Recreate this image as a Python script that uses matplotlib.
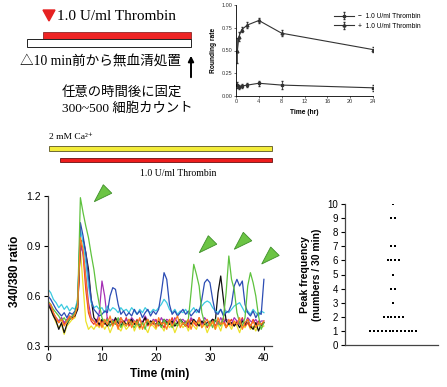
import numpy as np
import matplotlib.pyplot as plt
from matplotlib.patches import Rectangle, Polygon

plt.rcParams['font.family'] = ['Liberation Sans', 'Noto Sans CJK JP']
SERIF_JP = ['Liberation Serif', 'Noto Sans CJK JP']
SERIF = ['Liberation Serif', 'DejaVu Serif']

# rounding assay (top right)
round_time = [0.25, 0.5, 1, 2, 4, 8, 24]
round_plus = [0.50, 0.65, 0.73, 0.78, 0.83, 0.69, 0.51]
round_plus_err = [0.14, 0.05, 0.03, 0.03, 0.03, 0.03, 0.03]
round_minus = [0.12, 0.10, 0.11, 0.12, 0.14, 0.12, 0.09]
round_minus_err = [0.03, 0.02, 0.02, 0.02, 0.03, 0.04, 0.03]

# Ca imaging traces, sampled every 0.5 min from 0 to 40 min
time_min = np.arange(0, 40.25, 0.5)
tr_yellow = [0.55, 0.52, 0.48, 0.44, 0.41, 0.43, 0.37, 0.42, 0.44, 0.46,
             0.47, 0.60, 0.88, 0.66, 0.45, 0.40, 0.42, 0.40, 0.43, 0.41,
             0.44, 0.40, 0.43, 0.38, 0.42, 0.45, 0.41, 0.39, 0.43, 0.40,
             0.42, 0.45, 0.39, 0.43, 0.40, 0.44, 0.41, 0.38, 0.43, 0.42,
             0.40, 0.44, 0.42, 0.39, 0.45, 0.41, 0.43, 0.38, 0.42, 0.44,
             0.41, 0.43, 0.39, 0.44, 0.42, 0.40, 0.45, 0.41, 0.43, 0.38,
             0.42, 0.44, 0.40, 0.43, 0.39, 0.45, 0.41, 0.43, 0.40, 0.44,
             0.42, 0.38, 0.43, 0.41, 0.44, 0.40, 0.42, 0.39, 0.43, 0.41,
             0.42]
tr_red = [0.56, 0.54, 0.50, 0.46, 0.44, 0.47, 0.43, 0.45, 0.47, 0.48,
          0.49, 0.55, 0.93, 0.85, 0.64, 0.50, 0.45, 0.43, 0.46, 0.42,
          0.45, 0.43, 0.47, 0.42, 0.44, 0.46, 0.41, 0.45, 0.43, 0.47,
          0.42, 0.45, 0.43, 0.46, 0.41, 0.44, 0.47, 0.42, 0.45, 0.43,
          0.46, 0.42, 0.44, 0.41, 0.45, 0.43, 0.47, 0.42, 0.44, 0.46,
          0.43, 0.45, 0.41, 0.46, 0.44, 0.42, 0.47, 0.43, 0.45, 0.41,
          0.44, 0.46, 0.42, 0.45, 0.43, 0.47, 0.41, 0.44, 0.46, 0.42,
          0.45, 0.43, 0.47, 0.42, 0.44, 0.41, 0.46, 0.43, 0.45, 0.42,
          0.44]
tr_black = [0.55, 0.52, 0.48, 0.45, 0.40, 0.44, 0.38, 0.43, 0.46, 0.47,
            0.48, 0.52, 0.92, 0.94, 0.86, 0.76, 0.58, 0.47, 0.45, 0.43,
            0.46, 0.44, 0.42, 0.45, 0.43, 0.47, 0.44, 0.42, 0.45, 0.43,
            0.44, 0.46, 0.43, 0.45, 0.42, 0.44, 0.47, 0.43, 0.45, 0.44,
            0.43, 0.45, 0.42, 0.46, 0.44, 0.43, 0.45, 0.42, 0.44, 0.46,
            0.44, 0.42, 0.45, 0.43, 0.46, 0.44, 0.42, 0.45, 0.43, 0.44,
            0.44, 0.46, 0.45, 0.62, 0.72, 0.58, 0.45, 0.43, 0.44, 0.42,
            0.44, 0.41, 0.45, 0.43, 0.46, 0.42, 0.40, 0.44, 0.39, 0.43,
            0.44]
tr_magenta = [0.56, 0.53, 0.49, 0.47, 0.45, 0.47, 0.44, 0.46, 0.48, 0.47,
              0.49, 0.53, 0.90, 0.86, 0.72, 0.56, 0.47, 0.45, 0.44, 0.50,
              0.69, 0.60, 0.46, 0.44, 0.46, 0.43, 0.45, 0.47, 0.44, 0.46,
              0.44, 0.47, 0.45, 0.43, 0.46, 0.44, 0.48, 0.45, 0.43, 0.46,
              0.45, 0.43, 0.47, 0.44, 0.46, 0.45, 0.43, 0.47, 0.44, 0.45,
              0.46, 0.44, 0.43, 0.47, 0.45, 0.44, 0.46, 0.43, 0.47, 0.45,
              0.44, 0.46, 0.45, 0.43, 0.47, 0.44, 0.46, 0.45, 0.43, 0.47,
              0.45, 0.44, 0.46, 0.43, 0.47, 0.45, 0.44, 0.46, 0.43, 0.45,
              0.45]
tr_cyan = [0.64, 0.62, 0.58, 0.56, 0.53, 0.55, 0.52, 0.54, 0.51, 0.53,
           0.52, 0.58, 1.00, 0.92, 0.80, 0.66, 0.56, 0.53, 0.54, 0.52,
           0.53, 0.50, 0.54, 0.51, 0.53, 0.52, 0.50, 0.53, 0.51, 0.52,
           0.50, 0.53, 0.51, 0.49, 0.52, 0.50, 0.53, 0.51, 0.50, 0.52,
           0.51, 0.53, 0.55, 0.58, 0.56, 0.52, 0.50, 0.52, 0.49, 0.51,
           0.50, 0.52, 0.49, 0.51, 0.53, 0.50, 0.52, 0.54, 0.56, 0.57,
           0.56, 0.53, 0.51, 0.50, 0.52, 0.49, 0.51, 0.50, 0.52, 0.54,
           0.55, 0.56, 0.53, 0.50, 0.51, 0.49, 0.52, 0.50, 0.48, 0.51,
           0.50]
tr_blue = [0.60, 0.58, 0.55, 0.52, 0.50, 0.48, 0.50, 0.47, 0.50, 0.49,
           0.51, 0.56, 1.04, 0.96, 0.86, 0.72, 0.58, 0.52, 0.50, 0.48,
           0.49, 0.51, 0.50, 0.60, 0.65, 0.64, 0.55, 0.49, 0.51, 0.48,
           0.50, 0.48, 0.52, 0.49, 0.51, 0.47, 0.50, 0.52, 0.48, 0.51,
           0.49, 0.52, 0.62, 0.74, 0.70, 0.55, 0.49, 0.51, 0.48, 0.50,
           0.52, 0.49, 0.51, 0.48, 0.50, 0.52, 0.50, 0.58, 0.68, 0.70,
           0.68, 0.58, 0.50, 0.49, 0.52, 0.48, 0.50, 0.51, 0.55, 0.66,
           0.70, 0.66, 0.69, 0.55, 0.50, 0.48, 0.51, 0.47, 0.50, 0.49,
           0.70]
tr_green = [0.57, 0.55, 0.52, 0.50, 0.48, 0.45, 0.47, 0.44, 0.46, 0.48,
            0.50, 0.56, 1.19, 1.10, 1.02, 0.95, 0.85, 0.76, 0.64, 0.55,
            0.47, 0.44, 0.46, 0.42, 0.45, 0.43, 0.47, 0.41, 0.44, 0.42,
            0.46, 0.43, 0.41, 0.45, 0.42, 0.44, 0.40, 0.46, 0.43, 0.45,
            0.42, 0.44, 0.41, 0.46, 0.43, 0.45, 0.41, 0.44, 0.42, 0.46,
            0.43, 0.44, 0.46, 0.62, 0.79, 0.73, 0.66, 0.50, 0.44, 0.42,
            0.45, 0.41, 0.46, 0.44, 0.42, 0.47, 0.62, 0.84, 0.70, 0.64,
            0.50, 0.44, 0.42, 0.47, 0.66, 0.74, 0.68, 0.60, 0.48, 0.40,
            0.44]
tr_orange = [0.56, 0.55, 0.50, 0.47, 0.44, 0.46, 0.42, 0.45, 0.48, 0.46,
             0.49, 0.54, 0.95, 0.88, 0.70, 0.52, 0.46, 0.45, 0.42, 0.47,
             0.41, 0.46, 0.43, 0.48, 0.42, 0.45, 0.40, 0.47, 0.44, 0.42,
             0.46, 0.41, 0.45, 0.43, 0.47, 0.40, 0.44, 0.46, 0.42, 0.45,
             0.41, 0.47, 0.43, 0.44, 0.40, 0.46, 0.42, 0.45, 0.48, 0.41,
             0.44, 0.42, 0.46, 0.40, 0.45, 0.43, 0.47, 0.41, 0.44, 0.46,
             0.42, 0.45, 0.40, 0.47, 0.43, 0.44, 0.41, 0.46, 0.42, 0.45,
             0.43, 0.47, 0.40, 0.44, 0.46, 0.42, 0.45, 0.41, 0.44, 0.43,
             0.45]

# peak frequency per cell (numbers / 30 min)
peak_freq = [1, 1, 1, 1, 1, 1, 1, 1, 1, 1, 1, 1, 1,
             2, 2, 2, 2, 2, 2, 3, 4, 4, 5, 6, 6, 6, 6,
             7, 7, 9, 9, 10]

fig = plt.figure(figsize=(4.47, 3.87), dpi=100)

# overlay in pixel coordinates for the schematic parts (drawn on top of the panels)
ov = fig.add_axes([0, 0, 1, 1])
ov.set_xlim(0, 447)
ov.set_ylim(387, 0)
ov.axis('off')
ov.set_zorder(10)

ov.add_patch(Polygon([(43, 10), (55, 10), (49, 21)], closed=True, color='#e62222'))
ov.text(57, 16, '1.0 U/ml Thrombin', family=SERIF, fontsize=11, va='center', ha='left')
ov.add_patch(Rectangle((43, 32), 148, 6.5, facecolor='#ee2424', edgecolor='#7a1010', lw=0.5))
ov.add_patch(Rectangle((27, 39), 164, 7.5, facecolor='white', edgecolor='#222222', lw=0.7))
ov.text(20, 62, '△10 min前から無血清処置', family=SERIF_JP, fontsize=9.8, va='center', ha='left')
ov.annotate('', xy=(191, 53), xytext=(191, 80),
            arrowprops=dict(arrowstyle='-|>', color='black', lw=1.4, mutation_scale=8))
ov.text(62, 92, '任意の時間後に固定', family=SERIF_JP, fontsize=9.6, va='center', ha='left')
ov.text(62, 109, '300~500 細胞カウント', family=SERIF_JP, fontsize=9.6, va='center', ha='left')

ov.text(49, 137, '2 mM Ca²⁺', family=SERIF, fontsize=6.8, va='center', ha='left')
ov.add_patch(Rectangle((48.5, 146), 223, 4.5, facecolor='#f3ec3a', edgecolor='#5a5420', lw=0.6))
ov.add_patch(Rectangle((60, 158), 211.5, 4.2, facecolor='#ee1c1c', edgecolor='#6a1010', lw=0.6))
ov.text(178, 173, '1.0 U/ml Thrombin', family=SERIF, fontsize=7, va='center', ha='center')

# green arrowheads
for tip in [(94.3, 201.7), (199.3, 252.7), (234.3, 249.3), (261.7, 264.0)]:
    tx, ty = tip
    ov.add_patch(Polygon([(tx, ty), (tx + 9, ty - 17), (tx + 17.5, ty - 8.5)], closed=True,
                         facecolor='#6cc444', edgecolor='#3f8f2a', lw=0.6))

# rounding rate panel
ax1 = fig.add_axes([236 / 447, 1 - 96 / 387, 137 / 447, 91 / 387])
ax1.errorbar(round_time, round_minus, yerr=round_minus_err, color='#333333', lw=0.8,
             marker='s', ms=2, capsize=1, elinewidth=0.6, label='−  1.0 U/ml Thrombin')
ax1.errorbar(round_time, round_plus, yerr=round_plus_err, color='#333333', lw=0.8,
             marker='^', ms=2, capsize=1, elinewidth=0.6, label='+  1.0 U/ml Thrombin')
ax1.set_xlim(0, 24)
ax1.set_ylim(0, 1.0)
ax1.set_xticks([0, 4, 8, 12, 16, 20, 24])
ax1.set_yticks([0, 0.25, 0.5, 0.75, 1.0])
ax1.set_yticklabels(['0.00', '0.25', '0.50', '0.75', '1.00'])
ax1.tick_params(labelsize=4, length=1.5, width=0.5, pad=1, colors='#333333')
for s in ['top', 'right']:
    ax1.spines[s].set_visible(False)
for s in ['left', 'bottom']:
    ax1.spines[s].set_linewidth(0.6)
ax1.set_xlabel('Time (hr)', fontsize=4.8, fontweight='bold', labelpad=3)
ax1.set_ylabel('Rounding rate', fontsize=4.8, fontweight='bold', labelpad=3)
ax1.legend(loc='upper left', bbox_to_anchor=(328 / 447, 1 - 7 / 387), bbox_transform=fig.transFigure,
           fontsize=4.8, frameon=False, handlelength=3, handletextpad=0.6, labelspacing=0.4)

# Ca imaging panel
ax2 = fig.add_axes([48 / 447, 1 - 346 / 387, 224 / 447, 150 / 387])
traces = [(tr_yellow, '#ece22a'), (tr_red, '#e8322a'), (tr_magenta, '#a52fb5'),
          (tr_black, '#111111'), (tr_cyan, '#3ccbe0'), (tr_blue, '#2c4cb4'),
          (tr_green, '#5ec23e'), (tr_orange, '#ff7f1e')]
for vals, col in traces:
    ax2.plot(time_min, vals, color=col, lw=0.9)
ax2.set_xlim(0, 41.5)
ax2.set_ylim(0.3, 1.2)
ax2.set_xticks([0, 10, 20, 30, 40])
ax2.set_yticks([0.3, 0.6, 0.9, 1.2])
ax2.tick_params(labelsize=7.5, length=3, width=0.8, pad=2)
for s in ['top', 'right']:
    ax2.spines[s].set_visible(False)
for s in ['left', 'bottom']:
    ax2.spines[s].set_linewidth(0.9)
    ax2.spines[s].set_color('#444444')
ax2.set_xlabel('Time (min)', fontsize=8.5, fontweight='bold', labelpad=4)
ax2.set_ylabel('340/380 ratio', fontsize=8.5, fontweight='bold', labelpad=4)

# peak frequency dot plot
ax3 = fig.add_axes([345 / 447, 1 - 345 / 387, 93 / 447, 141 / 387])
vals = np.array(peak_freq)
for v in np.unique(vals):
    n = np.sum(vals == v)
    xs = 0.52 + (np.arange(n) - (n - 1) / 2) * 0.041
    ax3.plot(xs, [v] * n, 's', color='black', ms=1.6, mew=0)
ax3.set_xlim(0, 1)
ax3.set_ylim(0, 10)
ax3.set_yticks(range(0, 11))
ax3.set_xticks([])
ax3.tick_params(labelsize=7, length=3, width=0.8, pad=2)
for s in ['top', 'right']:
    ax3.spines[s].set_visible(False)
for s in ['left', 'bottom']:
    ax3.spines[s].set_linewidth(0.9)
    ax3.spines[s].set_color('#444444')
ax3.set_ylabel('Peak frequency\n(numbers / 30 min)', fontsize=7.5, fontweight='bold', labelpad=4)

fig.savefig('out.png', dpi=100)
